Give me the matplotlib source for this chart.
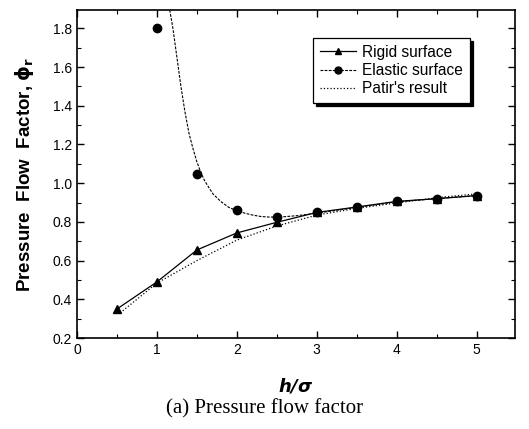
import numpy as np
import matplotlib
matplotlib.use('Agg')
import matplotlib.pyplot as plt
from matplotlib.ticker import MultipleLocator

plt.rcParams.update({'font.family': 'Liberation Sans', 'font.size': 10})

# ---- data ----
h_rigid = [0.5, 1.0, 1.5, 2.0, 2.5, 3.0, 3.5, 4.0, 4.5, 5.0]
phi_rigid = [0.35, 0.49, 0.655, 0.743, 0.798, 0.849, 0.877, 0.906, 0.920, 0.936]

h_elastic = [1.0, 1.5, 2.0, 2.5, 3.0, 3.5, 4.0, 4.5, 5.0]
phi_elastic = [1.80, 1.047, 0.861, 0.823, 0.849, 0.877, 0.906, 0.920, 0.936]

# fitted curve through the elastic results
h_fit = [1.16, 1.20, 1.25, 1.30, 1.35, 1.40, 1.45, 1.50, 1.55, 1.60, 1.70, 1.80,
         1.90, 2.00, 2.10, 2.20, 2.30, 2.40, 2.50, 2.60, 2.75, 3.0, 3.5, 4.0, 4.5, 5.0]
phi_fit = [1.895, 1.80, 1.65, 1.50, 1.37, 1.26, 1.18, 1.11, 1.055, 1.01, 0.945, 0.905,
           0.875, 0.858, 0.845, 0.835, 0.828, 0.825, 0.825, 0.827, 0.832, 0.845,
           0.875, 0.904, 0.920, 0.936]

h_patir = [0.54, 1.0, 1.5, 2.0, 2.5, 3.0, 3.5, 4.0, 4.5, 5.0]
phi_patir = [0.33, 0.484, 0.60, 0.706, 0.779, 0.835, 0.870, 0.898, 0.925, 0.945]

fig = plt.figure(figsize=(5.29, 4.29), dpi=100)
ax = fig.add_axes([0.1456, 0.2121, 0.8279, 0.7646])

ax.plot(h_rigid, phi_rigid, '-', color='black', lw=0.9, marker='^', ms=6)
ax.plot(h_fit, phi_fit, '--', color='black', lw=0.8, dashes=(2.5, 1.2))
ax.plot(h_elastic, phi_elastic, 'o', color='black', ms=6)
ax.plot(h_patir, phi_patir, ':', color='black', lw=0.9)

# legend proxies
l1, = ax.plot([], [], '-', color='black', lw=0.9, marker='^', ms=5)
l2, = ax.plot([], [], '--', color='black', lw=0.8, marker='o', ms=5, dashes=(2.5, 1.2))
l3, = ax.plot([], [], ':', color='black', lw=0.9)
leg = ax.legend([l1, l2, l3], ['Rigid surface', 'Elastic surface', "Patir's result"],
                loc='upper left', bbox_to_anchor=(0.539, 0.915), fontsize=11.2,
                fancybox=False, shadow={'color': 'black', 'alpha': 1},
                borderaxespad=0, handlelength=2.3, handletextpad=0.4,
                borderpad=0.45, labelspacing=0.2)
leg.get_frame().set_edgecolor('black')
leg.get_frame().set_linewidth(0.9)

ax.set_xlim(0, 5.48)
ax.set_ylim(0.2, 1.895)
ax.xaxis.set_major_locator(MultipleLocator(1))
ax.xaxis.set_minor_locator(MultipleLocator(0.5))
ax.yaxis.set_minor_locator(MultipleLocator(0.1))
ax.tick_params(which='both', direction='in', top=True, right=True, labelsize=10)
ax.tick_params(which='major', length=5, width=1)
ax.tick_params(which='minor', length=3, width=0.8)
ax.set_yticks(np.arange(0.2, 1.81, 0.2))
ax.set_yticklabels(['0.2', '0.4', '0.6', '0.8', '1.0', '1.2', '1.4', '1.6', '1.8'])
for sp in ax.spines.values():
    sp.set_linewidth(1.2)

ax.set_ylabel(r'Pressure  Flow  Factor, $\mathbf{\phi_r}$', fontsize=13.5,
              fontweight='bold', labelpad=12)
ax.set_xlabel(r'$\mathbfit{h/\sigma}$', fontsize=13, labelpad=14)

fig.text(0.5, 0.048, '(a) Pressure flow factor', ha='center', va='center',
         family='Liberation Serif', fontsize=15)

plt.savefig('out.png', dpi=100)
